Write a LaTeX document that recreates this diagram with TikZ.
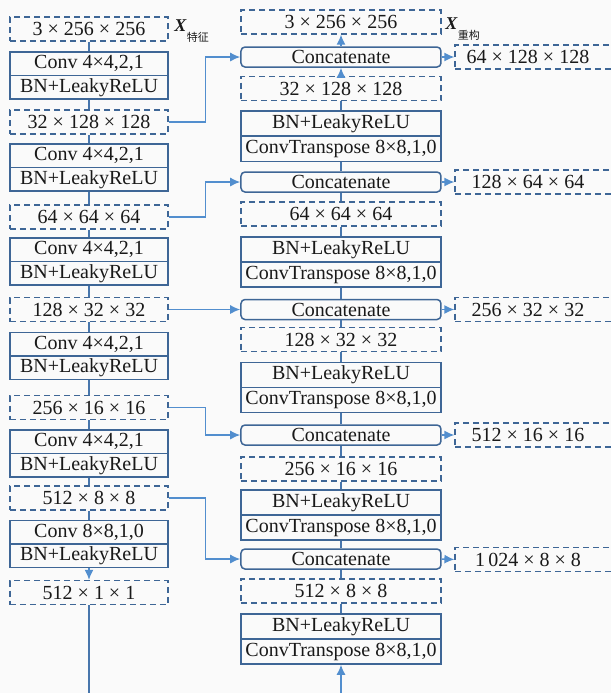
\documentclass[tikz,border=0pt]{standalone}
\usepackage{fontspec}
\setmainfont{Liberation Serif}
\newfontfamily\cjk{Noto Sans CJK SC}
\usetikzlibrary{arrows.meta,positioning}
\definecolor{boxblue}{RGB}{62,102,150}
\definecolor{linkblue}{RGB}{72,118,172}
\definecolor{arrowblue}{RGB}{82,142,206}
\definecolor{paper}{RGB}{250,250,250}
\tikzstyle{every node} = [inner sep=0pt, text=black!90]
\tikzstyle{dimbox} = [draw=boxblue, line width=0.6pt, dash pattern=on 3pt off 2pt, minimum height=12pt]
\tikzstyle{convbox} = [draw=boxblue, line width=0.75pt, minimum height=11.75pt]
\tikzstyle{tconvbox} = [draw=boxblue, line width=0.75pt, minimum height=12.5pt, minimum width=100pt]
\tikzstyle{catbox} = [draw=boxblue, line width=0.75pt, rounded corners=2pt, minimum height=10pt, minimum width=100pt]
\tikzstyle{enc} = [minimum width=79pt]
\tikzstyle{dec} = [minimum width=100pt]
\tikzstyle{outbox} = [dimbox, minimum width=85pt]
\tikzstyle{link} = [draw=linkblue, line width=0.75pt]
\tikzstyle{skip} = [draw=arrowblue, line width=0.75pt, -{Latex[length=5pt,width=4.5pt]}]

\begin{document}
\begin{tikzpicture}[x=0.5pt, y=-0.5pt, font=\fontsize{10}{12}\selectfont]
    \fill[paper] (0,0) rectangle (611,693);% page
    \clip (0,0) rectangle (611,693);
    % encoder (left column)
    \node[dimbox, enc] (e0) at (89,29) {3 × 256 × 256};
    \node[convbox, enc] (c1a) at (89,63.75) {Conv 4×4,2,1};
    \node[convbox, enc] (c1b) at (89,87.25) {BN+LeakyReLU};
    \node[dimbox, enc] (e1) at (89,122) {32 × 128 × 128};
    \node[convbox, enc] (c2a) at (89,155.75) {Conv 4×4,2,1};
    \node[convbox, enc] (c2b) at (89,179.25) {BN+LeakyReLU};
    \node[dimbox, enc] (e2) at (89,217) {64 × 64 × 64};
    \node[convbox, enc] (c3a) at (89,249.75) {Conv 4×4,2,1};
    \node[convbox, enc] (c3b) at (89,273.25) {BN+LeakyReLU};
    \node[dimbox, enc] (e3) at (89,309.5) {128 × 32 × 32};
    \node[convbox, enc] (c4a) at (89,344) {Conv 4×4,2,1};
    \node[convbox, enc] (c4b) at (89,367.5) {BN+LeakyReLU};
    \node[dimbox, enc] (e4) at (89,407.5) {256 × 16 × 16};
    \node[convbox, enc] (c5a) at (89,441.75) {Conv 4×4,2,1};
    \node[convbox, enc] (c5b) at (89,465.25) {BN+LeakyReLU};
    \node[dimbox, enc] (e5) at (89,498) {512 × 8 × 8};
    \node[convbox, enc] (c6a) at (89,532) {Conv 8×8,1,0};
    \node[convbox, enc] (c6b) at (89,555.5) {BN+LeakyReLU};
    \node[dimbox, enc] (e6) at (89,592.5) {512 × 1 × 1};
    \coordinate (zl) at (89,693);% latent line, left end
    % decoder (right column)
    \node[dimbox, dec] (r0) at (341,22) {3 × 256 × 256};
    \node[catbox] (cat1) at (341,57) {Concatenate};
    \node[dimbox, dec] (r1) at (341,88.5) {32 × 128 × 128};
    \node[tconvbox] (t1a) at (341,123.5) {BN+LeakyReLU};
    \node[tconvbox] (t1b) at (341,148.75) {ConvTranspose 8×8,1,0};
    \node[catbox] (cat2) at (341,182) {Concatenate};
    \node[dimbox, dec] (r2) at (341,214) {64 × 64 × 64};
    \node[tconvbox] (t2a) at (341,249.5) {BN+LeakyReLU};
    \node[tconvbox] (t2b) at (341,274.5) {ConvTranspose 8×8,1,0};
    \node[catbox] (cat3) at (341,309.5) {Concatenate};
    \node[dimbox, dec] (r3) at (341,339.5) {128 × 32 × 32};
    \node[tconvbox] (t3a) at (341,375) {BN+LeakyReLU};
    \node[tconvbox] (t3b) at (341,400) {ConvTranspose 8×8,1,0};
    \node[catbox] (cat4) at (341,435) {Concatenate};
    \node[dimbox, dec] (r4) at (341,469) {256 × 16 × 16};
    \node[tconvbox] (t4a) at (341,502.5) {BN+LeakyReLU};
    \node[tconvbox] (t4b) at (341,527.5) {ConvTranspose 8×8,1,0};
    \node[catbox] (cat5) at (341,559) {Concatenate};
    \node[dimbox, dec] (r5) at (341,591) {512 × 8 × 8};
    \node[tconvbox] (t5a) at (341,626.5) {BN+LeakyReLU};
    \node[tconvbox] (t5b) at (341,651.5) {ConvTranspose 8×8,1,0};
    \coordinate (zr) at (341,693);% latent line, right end
    % concatenated outputs
    \node[outbox] (o1) at (540,57) {\hspace*{-12pt}64 × 128 × 128};
    \node[outbox] (o2) at (540,182) {\hspace*{-12pt}128 × 64 × 64};
    \node[outbox] (o3) at (540,309.5) {\hspace*{-12pt}256 × 32 × 32};
    \node[outbox] (o4) at (540,435) {\hspace*{-12pt}512 × 16 × 16};
    \node[outbox] (o5) at (540,559.5) {\hspace*{-12pt}1\,024 × 8 × 8};
    % labels
    \node[anchor=base west] (xfeat) at (174,31)
        {\fontsize{9}{9}\selectfont\textbf{\textit{X}}\raisebox{-5pt}{\fontsize{5.5}{5.5}\cjk 特征}};
    \node[anchor=base west] (xrec) at (445,29)
        {\fontsize{9}{9}\selectfont\textbf{\textit{X}}\raisebox{-5pt}{\fontsize{5.5}{5.5}\cjk 重构}};
    % encoder links
    \draw[link] (e0) -- (c1a);
    \draw[link] (c1b) -- (e1);
    \draw[link] (e1) -- (c2a);
    \draw[link] (c2b) -- (e2);
    \draw[link] (e2) -- (c3a);
    \draw[link] (c3b) -- (e3);
    \draw[link] (e3) -- (c4a);
    \draw[link] (c4b) -- (e4);
    \draw[link] (e4) -- (c5a);
    \draw[link] (c5b) -- (e5);
    \draw[link] (e5) -- (c6a);
    \draw[skip] (c6b) -- (e6);
    \draw[link] (e6) -- (zl);
    % decoder links
    \draw[skip] (zr) -- (t5b);
    \draw[link] (t5a) -- (r5);
    \draw[link] (r5) -- (cat5);
    \draw[link] (cat5) -- (t4b);
    \draw[link] (t4a) -- (r4);
    \draw[link] (r4) -- (cat4);
    \draw[link] (cat4) -- (t3b);
    \draw[link] (t3a) -- (r3);
    \draw[link] (r3) -- (cat3);
    \draw[link] (cat3) -- (t2b);
    \draw[link] (t2a) -- (r2);
    \draw[link] (r2) -- (cat2);
    \draw[link] (cat2) -- (t1b);
    \draw[link] (t1a) -- (r1);
    \draw[skip] (r1) -- (cat1);
    \draw[skip] (cat1) -- (r0);
    % skip connections
    \draw[skip] (e1.east) -- ++(37,0) |- (cat1.west);
    \draw[skip] (e2.east) -- ++(37,0) |- (cat2.west);
    \draw[skip] (e3.east) -- (cat3.west);
    \draw[skip] (e4.east) -- ++(37,0) |- (cat4.west);
    \draw[skip] (e5.east) -- ++(37,0) |- (cat5.west);
    % outputs
    \draw[skip] (cat1.east) -- (o1.west);
    \draw[skip] (cat2.east) -- (o2.west);
    \draw[skip] (cat3.east) -- (o3.west);
    \draw[skip] (cat4.east) -- (o4.west);
    \draw[skip] (cat5.east) -- (o5.west);
\end{tikzpicture}
\end{document}
